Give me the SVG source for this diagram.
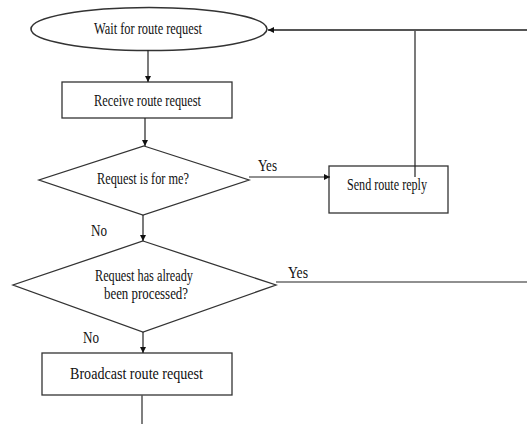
<svg xmlns="http://www.w3.org/2000/svg" width="527" height="424" viewBox="0 0 527 424">
<defs>
<marker id="ah" viewBox="0 0 10 10" refX="10" refY="5" markerWidth="6" markerHeight="6" markerUnits="userSpaceOnUse" orient="auto"><path d="M0,0 L10,5 L0,10 z" fill="#111"/></marker>
<style>
.s{fill:#fff;stroke:#333;stroke-width:1.3}
.c{fill:none;stroke:#222;stroke-width:1.2}
.t{font-family:"Liberation Serif","Times New Roman",serif;font-size:16px;fill:#111}
</style>
</defs>
<rect width="527" height="424" fill="#fff"/>
<g id="wait">
<ellipse class="s" cx="149" cy="29" rx="118" ry="21.5" style="stroke-width:1.6"/>
<text class="t" x="94" y="34" textLength="108" lengthAdjust="spacingAndGlyphs">Wait for route request</text>
</g>
<g id="receive">
<rect class="s" x="62" y="82" width="170" height="36"/>
<text class="t" x="94" y="106" textLength="107" lengthAdjust="spacingAndGlyphs">Receive  route request</text>
</g>
<g id="forme">
<polygon class="s" points="144,146 249,180 143,215 39,180"/>
<text class="t" x="97" y="184" textLength="92" lengthAdjust="spacingAndGlyphs">Request is for me?</text>
</g>
<g id="reply">
<rect class="s" x="329" y="166" width="119" height="47"/>
<text class="t" x="347" y="190" textLength="80" lengthAdjust="spacingAndGlyphs">Send route reply</text>
</g>
<g id="processed">
<polygon class="s" points="143,241 276,285 143,332 13,285"/>
<text class="t" x="95" y="281" textLength="98" lengthAdjust="spacingAndGlyphs">Request has already</text>
<text class="t" x="104" y="299" textLength="84" lengthAdjust="spacingAndGlyphs">been processed?</text>
</g>
<g id="broadcast">
<rect class="s" x="42" y="353" width="190" height="42"/>
<text class="t" x="70" y="379" textLength="133" lengthAdjust="spacingAndGlyphs">Broadcast route request</text>
</g>
<g id="connectors">
<line class="c" x1="148" y1="50" x2="148" y2="82" marker-end="url(#ah)"/>
<line class="c" x1="145" y1="118" x2="145" y2="146" marker-end="url(#ah)"/>
<line class="c" x1="249" y1="177" x2="330" y2="177" marker-end="url(#ah)"/>
<line class="c" x1="143" y1="215" x2="143" y2="241" marker-end="url(#ah)"/>
<line class="c" x1="143" y1="332" x2="143" y2="353" marker-end="url(#ah)"/>
<line class="c" x1="142" y1="395" x2="142" y2="424" style="stroke:#555;stroke-width:1.5"/>
<line class="c" x1="415" y1="177" x2="415" y2="30"/>
<line class="c" x1="527" y1="30" x2="268" y2="30" style="stroke:#555;stroke-width:2" marker-end="url(#ah)"/>
<line class="c" x1="276" y1="282" x2="527" y2="282"/>
<text class="t" x="258" y="171" textLength="19" lengthAdjust="spacingAndGlyphs">Yes</text>
<text class="t" x="91" y="236" textLength="16" lengthAdjust="spacingAndGlyphs">No</text>
<text class="t" x="288" y="278" textLength="20" lengthAdjust="spacingAndGlyphs">Yes</text>
<text class="t" x="83" y="343" textLength="16" lengthAdjust="spacingAndGlyphs">No</text>
</g>
</svg>
